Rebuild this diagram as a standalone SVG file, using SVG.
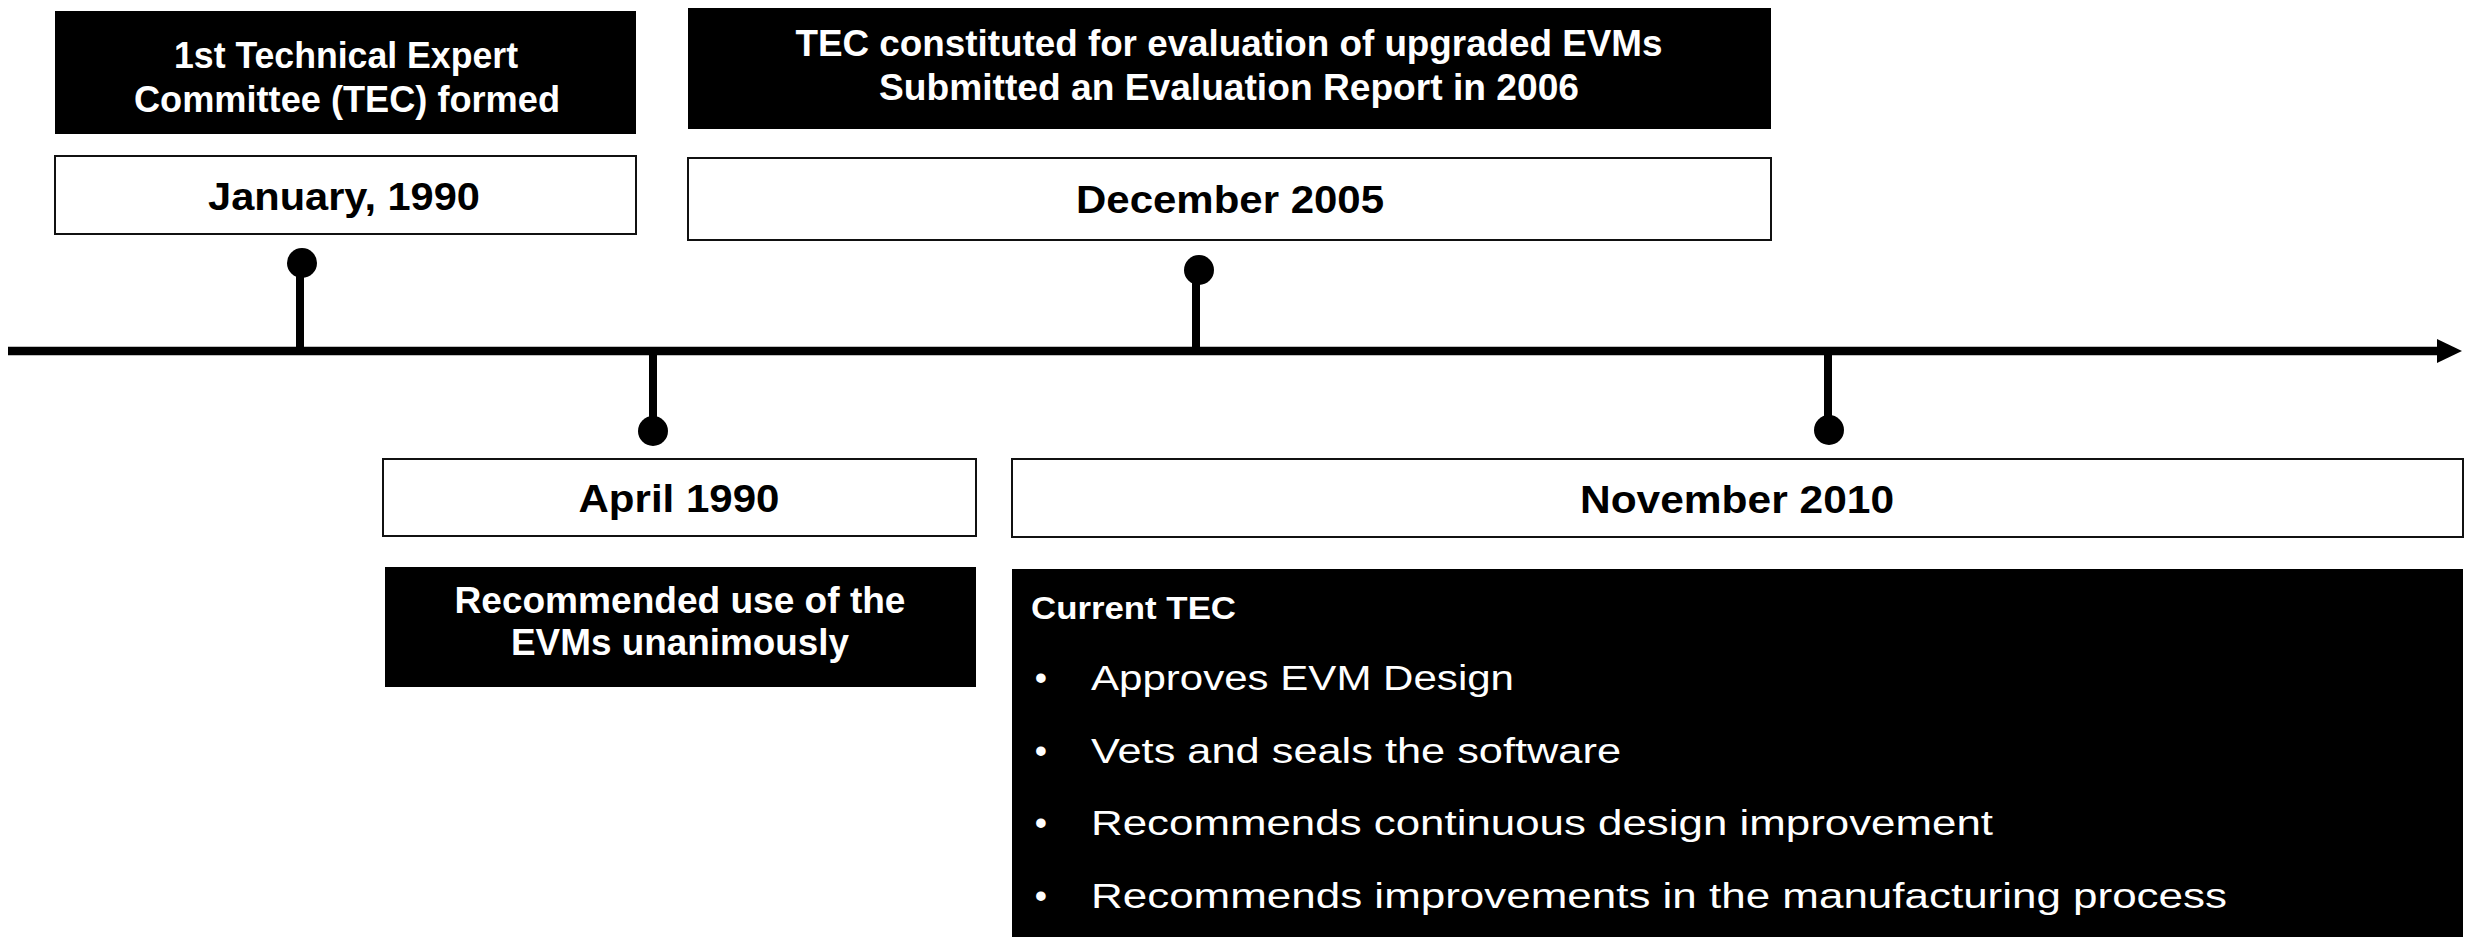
<svg xmlns="http://www.w3.org/2000/svg" width="2471" height="937" viewBox="0 0 2471 937">
<style>
.bk{fill:#000}
.wb{fill:#fff;stroke:#111;stroke-width:2}
.hw{font-family:"Liberation Sans",Arial,sans-serif;font-weight:bold;font-size:37px;fill:#fff;text-anchor:middle}
.hb{font-family:"Liberation Sans",Arial,sans-serif;font-weight:bold;font-size:38px;fill:#000;text-anchor:middle}
.bl{font-family:"Liberation Sans",Arial,sans-serif;font-size:35px;fill:#fff}
.ct{font-family:"Liberation Sans",Arial,sans-serif;font-weight:bold;font-size:31px;fill:#fff}
.stem{stroke:#000;stroke-width:8}
</style>
<rect width="2471" height="937" fill="#fff"/>
<g id="connectors">
  <line x1="8" y1="351" x2="2440" y2="351" stroke="#000" stroke-width="8.5"/>
  <polygon points="2437,339 2462,351 2437,363" fill="#000"/>
  <line class="stem" x1="300" y1="276" x2="300" y2="348"/>
  <circle cx="302" cy="263" r="15" class="bk"/>
  <line class="stem" x1="1196" y1="282" x2="1196" y2="348"/>
  <circle cx="1199" cy="270" r="15" class="bk"/>
  <line class="stem" x1="653" y1="354" x2="653" y2="420"/>
  <circle cx="653" cy="431" r="15" class="bk"/>
  <line class="stem" x1="1828" y1="354" x2="1828" y2="418"/>
  <circle cx="1829" cy="430" r="15" class="bk"/>
</g>
<g id="tec1">
  <rect x="55" y="11" width="581" height="123" class="bk"/>
  <text class="hw" x="346" y="68" textLength="344" lengthAdjust="spacingAndGlyphs">1st Technical Expert</text>
  <text class="hw" x="347" y="112" textLength="426" lengthAdjust="spacingAndGlyphs">Committee (TEC) formed</text>
</g>
<g id="jan1990">
  <rect x="55" y="156" width="581" height="78" class="wb"/>
  <text class="hb" x="344" y="210" textLength="272" lengthAdjust="spacingAndGlyphs">January, 1990</text>
</g>
<g id="tec2005">
  <rect x="688" y="8" width="1083" height="121" class="bk"/>
  <text class="hw" x="1229" y="56" textLength="867" lengthAdjust="spacingAndGlyphs">TEC constituted for evaluation of upgraded EVMs</text>
  <text class="hw" x="1229" y="100" textLength="700" lengthAdjust="spacingAndGlyphs">Submitted an Evaluation Report in 2006</text>
</g>
<g id="dec2005">
  <rect x="688" y="158" width="1083" height="82" class="wb"/>
  <text class="hb" x="1230" y="213" textLength="308" lengthAdjust="spacingAndGlyphs">December 2005</text>
</g>
<g id="apr1990">
  <rect x="383" y="459" width="593" height="77" class="wb"/>
  <text class="hb" x="679" y="512" textLength="201" lengthAdjust="spacingAndGlyphs">April 1990</text>
</g>
<g id="recommended">
  <rect x="385" y="567" width="591" height="120" class="bk"/>
  <text class="hw" x="680" y="613" textLength="451" lengthAdjust="spacingAndGlyphs">Recommended use of the</text>
  <text class="hw" x="680" y="655" textLength="338" lengthAdjust="spacingAndGlyphs">EVMs unanimously</text>
</g>
<g id="nov2010">
  <rect x="1012" y="459" width="1451" height="78" class="wb"/>
  <text class="hb" x="1737" y="513" textLength="314" lengthAdjust="spacingAndGlyphs">November 2010</text>
</g>
<g id="currenttec">
  <rect x="1012" y="569" width="1451" height="368" class="bk"/>
  <text class="ct" x="1031" y="619" textLength="205" lengthAdjust="spacingAndGlyphs">Current TEC</text>
  <text class="bl" x="1041" y="690" text-anchor="middle">•</text>
  <text class="bl" x="1091" y="690" textLength="423" lengthAdjust="spacingAndGlyphs">Approves EVM Design</text>
  <text class="bl" x="1041" y="763" text-anchor="middle">•</text>
  <text class="bl" x="1091" y="763" textLength="530" lengthAdjust="spacingAndGlyphs">Vets and seals the software</text>
  <text class="bl" x="1041" y="835" text-anchor="middle">•</text>
  <text class="bl" x="1091" y="835" textLength="902" lengthAdjust="spacingAndGlyphs">Recommends continuous design improvement</text>
  <text class="bl" x="1041" y="908" text-anchor="middle">•</text>
  <text class="bl" x="1091" y="908" textLength="1136" lengthAdjust="spacingAndGlyphs">Recommends improvements in the manufacturing process</text>
</g>
</svg>
